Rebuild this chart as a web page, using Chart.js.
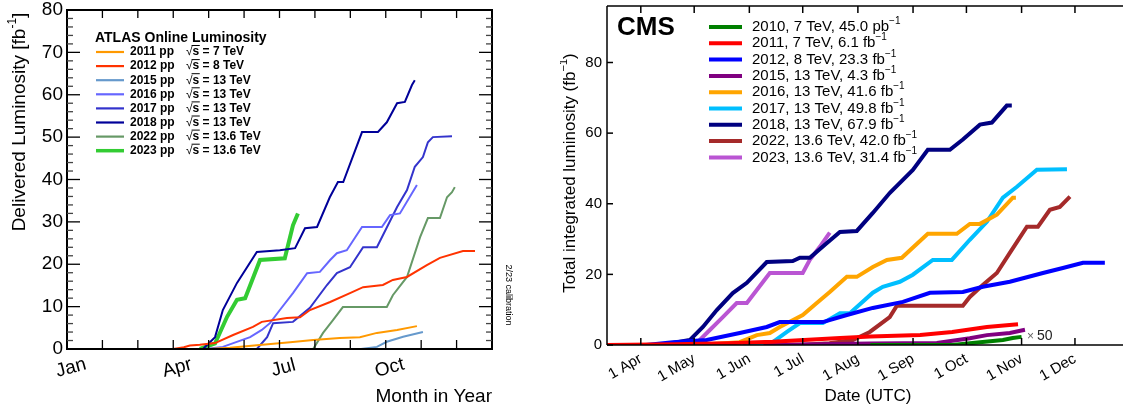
<!DOCTYPE html>
<html>
<head>
<meta charset="utf-8">
<script src="https://cdn.jsdelivr.net/npm/chart.js@4/dist/chart.umd.min.js"></script>
<style>
  html, body { margin: 0; padding: 0; background: #fff; }
  #wrap { position: relative; width: 1123px; height: 411px; overflow: hidden; }
  canvas { position: absolute; top: 0; }
  #atlas { left: 0; }
  #cms { left: 560px; }
</style>
</head>
<body>
<div id="wrap">
  <canvas id="atlas" width="560" height="411"></canvas>
  <canvas id="cms" width="563" height="411"></canvas>
</div>
<script>
/* Luminosity per year: ATLAS (left) and CMS (right) */

const FONT = '"Liberation Sans", Arial, Helvetica, sans-serif';

// ---- ATLAS: x = month in year (0 = 1 Jan), y = fb^-1 ----
const atlasMonthTicks = [0, 3, 6, 9];
const atlasMonthLabels = ['Jan', 'Apr', 'Jul', 'Oct'];
const atlasYTicks = [0, 10, 20, 30, 40, 50, 60, 70, 80];

const a2011M = [2.34, 4.0, 4.6, 5.36, 6.3, 6.95, 7.7, 8.27, 8.75, 9.32, 9.88];
const a2011V = [0, 0, 0.3, 0.9, 1.6, 2.1, 2.6, 2.8, 3.8, 4.5, 5.4];
const a2012M = [3.0, 3.3, 3.47, 3.75, 4.18, 4.69, 5.25, 5.5, 6.21, 6.58, 6.86, 7.43, 7.99, 8.36, 8.92, 9.2, 9.6, 10.16, 10.53, 11.18, 11.52];
const a2012V = [0, 0.4, 0.8, 1.0, 1.4, 3.3, 5.2, 6.4, 7.3, 7.5, 9.2, 11.1, 13.2, 14.6, 15.1, 16.3, 17.0, 19.8, 21.5, 23.1, 23.1];
const a2015M = [5.0, 8.3, 8.75, 9.03, 9.49, 10.05];
const a2015V = [0, 0, 0.5, 1.7, 2.9, 4.0];
const a2016M = [3.9, 4.4, 5.17, 5.5, 5.73, 6.01, 6.38, 6.78, 7.14, 7.43, 7.62, 7.9, 8.33, 8.89, 9.12, 9.4, 9.88];
const a2016V = [0, 0.5, 2.8, 4.5, 6.1, 9.2, 13.2, 17.9, 18.2, 21, 22.6, 23.3, 28.8, 28.8, 31.6, 32, 38.7];
const a2017M = [4.5, 5.36, 5.65, 5.82, 6.38, 6.86, 7.34, 7.62, 7.99, 8.36, 8.75, 9.32, 9.6, 9.82, 10.05, 10.19, 10.33, 10.87];
const a2017V = [0, 0, 2.8, 6.1, 6.4, 9.7, 15.1, 17.9, 19.3, 24, 24, 33.5, 37.5, 43, 45.3, 48.8, 50, 50.2];
const a2018M = [3.84, 4.18, 4.4, 4.8, 5.36, 6.01, 6.44, 6.72, 7.06, 7.42, 7.65, 7.8, 8.33, 8.78, 9.03, 9.32, 9.54, 9.74, 9.82];
const a2018V = [0, 2.8, 9.2, 15.6, 22.9, 23.3, 23.8, 28.5, 28.8, 35.8, 39.4, 39.4, 51.2, 51.2, 53.5, 58, 58.3, 62.3, 63.4];
const a2022M = [4.5, 6.95, 7.23, 7.51, 7.79, 9.03, 9.2, 9.6, 9.97, 10.19, 10.53, 10.73, 10.87, 10.95];
const a2022V = [0, 0, 3.8, 6.8, 9.9, 9.9, 12.7, 17, 26.4, 30.9, 30.9, 35.8, 37, 38.2];
const a2023M = [3.75, 4.18, 4.52, 4.8, 5.03, 5.45, 6.15, 6.38, 6.52];
const a2023V = [0, 1.3, 7.6, 11.6, 12, 21, 21.4, 29.2, 32];

const atlasSeries = [
    { year: '2011 pp', energy: '7 TeV', color: '#ff9900', width: 2, m: a2011M, v: a2011V },
    { year: '2012 pp', energy: '8 TeV', color: '#ff3300', width: 2, m: a2012M, v: a2012V },
    { year: '2015 pp', energy: '13 TeV', color: '#6699cc', width: 2, m: a2015M, v: a2015V },
    { year: '2016 pp', energy: '13 TeV', color: '#6666ff', width: 2, m: a2016M, v: a2016V },
    { year: '2017 pp', energy: '13 TeV', color: '#3333cc', width: 2, m: a2017M, v: a2017V },
    { year: '2018 pp', energy: '13 TeV', color: '#000099', width: 2, m: a2018M, v: a2018V },
    { year: '2022 pp', energy: '13.6 TeV', color: '#669966', width: 2, m: a2022M, v: a2022V },
    { year: '2023 pp', energy: '13.6 TeV', color: '#33cc33', width: 4, m: a2023M, v: a2023V },
];

// ---- CMS: x = day of year, y = fb^-1 ----
const cmsDayTicks = [91, 121, 152, 182, 213, 244, 274, 305, 335];
const cmsDayLabels = ['1 Apr', '1 May', '1 Jun', '1 Jul', '1 Aug', '1 Sep', '1 Oct', '1 Nov', '1 Dec'];
const cmsYTicks = [0, 20, 40, 60, 80];

const c2010D = [220, 266, 276, 294.5, 300, 305];
const c2010V = [0, 0, 0.5, 1.4, 2.0, 2.3];
const c2011D = [72, 110, 140, 165, 203, 220, 248, 266, 285.5, 303];
const c2011V = [0, 0.2, 0.5, 0.9, 2.0, 2.4, 2.8, 3.7, 5.1, 5.9];
const c2012D = [94, 109, 128, 146.6, 161.8, 169.1, 193.3, 206.8, 221.4, 238.3, 253.5, 272, 283.2, 298.4, 317, 328.2, 339.5, 351.8];
const c2012V = [0, 0.8, 1.4, 3.4, 5.1, 6.5, 6.5, 8.5, 10.5, 12.2, 14.8, 15, 16.5, 17.9, 20.4, 21.8, 23.3, 23.3];
const c2015D = [160, 219.7, 257.4, 275.9, 285.5, 298.4, 306.9];
const c2015V = [0, 0.4, 0.6, 1.9, 2.8, 3.4, 4.3];
const c2016D = [113, 122.5, 146.6, 156.2, 163.5, 169.1, 182, 189.9, 197.2, 206.8, 212.4, 221.4, 229.3, 237.7, 252.3, 268.6, 275.9, 281.6, 291.1, 300.1, 301.8];
const c2016V = [0, 0, 0.8, 2.8, 3.4, 5.1, 8.5, 11.9, 15, 19.3, 19.3, 22.1, 24.1, 24.7, 31.5, 31.5, 34.3, 34.3, 36.9, 41.7, 41.7];
const c2017D = [148.3, 165.2, 173.1, 180.4, 193.3, 202.9, 208.5, 221.4, 227, 236.6, 243.9, 255.1, 265.8, 275.9, 285.5, 294.5, 302.4, 313.6, 330.5];
const c2017V = [0, 0.8, 3.7, 6.2, 6.2, 9, 9, 14.8, 16.5, 17.9, 19.9, 24.1, 24.1, 29.8, 34.9, 41.7, 44.8, 49.6, 49.8];
const c2018D = [100, 109, 118.5, 125.9, 133.7, 142.7, 150.6, 161.8, 176.4, 180.4, 186, 195.6, 202.9, 212.4, 221.4, 231, 243.9, 252.3, 264.7, 272, 281.6, 288.3, 296.7, 299.5];
const c2018V = [0, 0.6, 1.4, 5.1, 9.9, 14.7, 17.6, 23.5, 23.8, 24.7, 24.7, 28.9, 32, 32.3, 37.4, 43.1, 49.6, 55.3, 55.3, 58.2, 62.4, 63, 67.8, 67.8];
const c2022D = [180, 197, 210.2, 219.7, 230.9, 234.9, 272, 275.9, 283.2, 291.1, 298.4, 308, 314.2, 320.9, 326.5, 332.2];
const c2022V = [0, 0.5, 1.4, 3.7, 7.9, 11.1, 11.1, 13.6, 17, 20.4, 26.1, 33.5, 33.5, 38.3, 39.1, 42];
const c2023D = [110, 122.5, 128.1, 137.1, 144.9, 150.6, 163.5, 182, 186, 191.6, 197.2];
const c2023V = [0, 0.6, 3.4, 7.9, 11.9, 11.9, 20.4, 20.4, 24.1, 27.8, 31.8];

const cmsSeries = [
    { label: '2010, 7 TeV, 45.0 pb', color: '#008000', d: c2010D, v: c2010V },
    { label: '2011, 7 TeV, 6.1 fb', color: '#ff0000', d: c2011D, v: c2011V },
    { label: '2012, 8 TeV, 23.3 fb', color: '#0000ff', d: c2012D, v: c2012V },
    { label: '2015, 13 TeV, 4.3 fb', color: '#800080', d: c2015D, v: c2015V },
    { label: '2016, 13 TeV, 41.6 fb', color: '#ffa500', d: c2016D, v: c2016V },
    { label: '2017, 13 TeV, 49.8 fb', color: '#00bfff', d: c2017D, v: c2017V },
    { label: '2018, 13 TeV, 67.9 fb', color: '#000080', d: c2018D, v: c2018V },
    { label: '2022, 13.6 TeV, 42.0 fb', color: '#a52a2a', d: c2022D, v: c2022V },
    { label: '2023, 13.6 TeV, 31.4 fb', color: '#ba55d3', d: c2023D, v: c2023V },
];

Chart.defaults.font.family = FONT;
Chart.defaults.color = '#000';

function seg(ctx, x1, y1, x2, y2) {
    ctx.beginPath();
    ctx.moveTo(x1, y1);
    ctx.lineTo(x2, y2);
    ctx.stroke();
}

// text with a raised "^-1" part, drawn at (x, y) with given alignment
function supText(ctx, base, sup, tail, x, y, size, align, weight) {
    const w = weight || '';
    ctx.font = w + ' ' + size + 'px ' + FONT;
    const wb = ctx.measureText(base).width;
    const wt = ctx.measureText(tail).width;
    ctx.font = w + ' ' + Math.round(size * 0.65) + 'px ' + FONT;
    const ws = ctx.measureText(sup).width;
    const total = wb + ws + wt;
    let x0 = x;
    if (align === 'center') x0 = x - total / 2;
    if (align === 'right') x0 = x - total;
    ctx.textAlign = 'left';
    ctx.textBaseline = 'middle';
    ctx.font = w + ' ' + size + 'px ' + FONT;
    ctx.fillText(base, x0, y);
    ctx.fillText(tail, x0 + wb + ws, y);
    ctx.font = w + ' ' + Math.round(size * 0.65) + 'px ' + FONT;
    ctx.fillText(sup, x0 + wb, y - size * 0.38);
}

// keep the plot box exactly where afterFit puts it
function noPad(s) {
    s.paddingTop = 0;
    s.paddingBottom = 0;
    s.paddingLeft = 0;
    s.paddingRight = 0;
}

const atlasDecor = {
    id: 'atlasDecor',
    afterDraw(chart) {
        const { ctx, chartArea: a, scales: { x, y } } = chart;
        ctx.save();
        ctx.strokeStyle = '#000';
        ctx.lineWidth = 2;
        ctx.strokeRect(a.left, a.top, a.right - a.left, a.bottom - a.top);

        ctx.lineWidth = 1.3;
        for (let v = 2; v < 80; v += 2) {
            const py = y.getPixelForValue(v);
            const len = v % 10 === 0 ? 13 : 6;
            ctx.strokeStyle = v % 10 === 0 ? '#000' : '#444';
            seg(ctx, a.left, py, a.left + len, py);
            seg(ctx, a.right, py, a.right - len, py);
        }
        ctx.strokeStyle = '#000';
        for (let m = 1; m < 12; m++) {
            const px = x.getPixelForValue(m);
            seg(ctx, px, a.bottom, px, a.bottom - 9);
            seg(ctx, px, a.top, px, a.top + 8);
        }

        // month labels, slightly tilted
        ctx.fillStyle = '#000';
        ctx.font = '19px ' + FONT;
        ctx.textAlign = 'center';
        ctx.textBaseline = 'middle';
        atlasMonthTicks.forEach((m, i) => {
            ctx.save();
            ctx.translate(x.getPixelForValue(m) + 4, a.bottom + 19);
            ctx.rotate(-15 * Math.PI / 180);
            ctx.fillText(atlasMonthLabels[i], 0, 0);
            ctx.restore();
        });

        // axis titles
        ctx.font = '19px ' + FONT;
        ctx.textAlign = 'right';
        ctx.fillText('Month in Year', a.right, 397);
        ctx.save();
        ctx.translate(20, 122);
        ctx.rotate(-Math.PI / 2);
        supText(ctx, 'Delivered Luminosity [fb', '-1', ']', 0, 0, 19, 'center');
        ctx.restore();

        ctx.save();
        ctx.translate(508, 295);
        ctx.rotate(Math.PI / 2);
        ctx.font = '9px ' + FONT;
        ctx.textAlign = 'center';
        ctx.fillText('2/23 calibration', 0, 0);
        ctx.restore();

        // legend
        ctx.font = 'bold 14px ' + FONT;
        ctx.textAlign = 'left';
        ctx.fillText('ATLAS Online Luminosity', 95, 38);
        atlasSeries.forEach((s, i) => {
            const ry = 52 + i * 14.1;
            ctx.strokeStyle = s.color;
            ctx.lineWidth = s.width === 4 ? 3.5 : 2.2;
            seg(ctx, 96, ry, 124, ry);
            ctx.font = 'bold 12px ' + FONT;
            ctx.fillStyle = '#000';
            ctx.fillText(s.year, 130, ry);
            ctx.font = '12px ' + FONT;
            const wr = ctx.measureText('\u221A').width;
            ctx.fillText('\u221A', 186, ry);
            ctx.font = 'bold 12px ' + FONT;
            const ws = ctx.measureText('s').width;
            ctx.fillText('s = ' + s.energy, 186 + wr, ry);
            ctx.strokeStyle = '#000';
            ctx.lineWidth = 1;
            seg(ctx, 186 + wr - 1, ry - 6.5, 186 + wr + ws + 0.5, ry - 6.5);
        });
        ctx.restore();
    }
};

new Chart(document.getElementById('atlas'), {
    type: 'line',
    data: {
        datasets: atlasSeries.map(s => ({
            label: s.year,
            data: s.m.map((m, i) => ({ x: m, y: s.v[i] })),
            borderColor: s.color,
            borderWidth: s.width,
            pointRadius: 0,
            tension: 0,
            fill: false,
        })),
    },
    options: {
        responsive: false,
        animation: false,
        layout: { padding: { top: 10, right: 68, left: 0, bottom: 0 } },
        plugins: { legend: { display: false }, tooltip: { enabled: false } },
        scales: {
            x: {
                type: 'linear', min: 0, max: 12,
                grid: { display: false, drawTicks: false },
                border: { display: false },
                ticks: { display: false },
                afterFit: s => { s.height = 62; noPad(s); },
            },
            y: {
                min: 0, max: 80,
                afterBuildTicks: s => { s.ticks = atlasYTicks.map(v => ({ value: v })); },
                grid: { display: false, drawTicks: false },
                border: { display: false },
                ticks: { font: { size: 19 }, color: '#000', padding: 4 },
                afterFit: s => { s.width = 67; noPad(s); },
            },
        },
    },
    plugins: [atlasDecor],
});

const cmsDecor = {
    id: 'cmsDecor',
    afterDraw(chart) {
        const { ctx, chartArea: a, scales: { x, y } } = chart;
        ctx.save();
        ctx.strokeStyle = '#000';
        ctx.lineWidth = 1.5;
        seg(ctx, a.left, a.top, a.left, a.bottom);
        seg(ctx, a.left, a.bottom, a.right, a.bottom);
        seg(ctx, a.left, a.top, a.right, a.top);
        cmsYTicks.forEach(v => {
            const py = y.getPixelForValue(v);
            seg(ctx, a.left, py, a.left + 6, py);
        });
        cmsDayTicks.forEach(d => {
            const px = x.getPixelForValue(d);
            seg(ctx, px, a.bottom, px, a.bottom - 7);
            seg(ctx, px, a.top, px, a.top + 7);
        });

        ctx.fillStyle = '#000';
        ctx.font = 'bold 26px ' + FONT;
        ctx.textAlign = 'left';
        ctx.textBaseline = 'middle';
        ctx.fillText('CMS', 57, 28);

        cmsSeries.forEach((s, i) => {
            const ry = 27 + i * 16.3;
            ctx.strokeStyle = s.color;
            ctx.lineWidth = 4;
            seg(ctx, 149, ry, 182, ry);
            ctx.fillStyle = '#000';
            supText(ctx, s.label, '\u22121', '', 192, ry, 15, 'left');
        });

        // x50 note for 2010
        ctx.font = '12px ' + FONT;
        ctx.fillStyle = '#666';
        ctx.textAlign = 'left';
        ctx.fillText('\u00D7', 467, 337);
        ctx.font = '14px ' + FONT;
        ctx.fillStyle = '#222';
        ctx.fillText('50', 477, 336);

        // axis titles
        ctx.fillStyle = '#000';
        ctx.font = '17px ' + FONT;
        ctx.textAlign = 'center';
        ctx.fillText('Date (UTC)', 308, 396);
        ctx.save();
        ctx.translate(10, 173);
        ctx.rotate(-Math.PI / 2);
        supText(ctx, 'Total integrated luminosity (fb', '\u22121', ')', 0, 0, 17, 'center');
        ctx.restore();
        ctx.restore();
    }
};

new Chart(document.getElementById('cms'), {
    type: 'line',
    data: {
        datasets: cmsSeries.map(s => ({
            label: s.label,
            data: s.d.map((d, i) => ({ x: d, y: s.v[i] })),
            borderColor: s.color,
            borderWidth: 4,
            pointRadius: 0,
            tension: 0,
            fill: false,
        })),
    },
    options: {
        responsive: false,
        animation: false,
        layout: { padding: { top: 6, right: 0, left: 0, bottom: 0 } },
        plugins: { legend: { display: false }, tooltip: { enabled: false } },
        scales: {
            x: {
                type: 'linear', min: 72, max: 362,
                afterBuildTicks: s => { s.ticks = cmsDayTicks.map(v => ({ value: v })); },
                grid: { display: false, drawTicks: false },
                border: { display: false },
                ticks: {
                    font: { size: 15 }, color: '#000', autoSkip: false,
                    minRotation: 30, maxRotation: 30, padding: 5,
                    callback: v => cmsDayLabels[cmsDayTicks.indexOf(v)],
                },
                afterFit: s => { s.height = 66; noPad(s); },
            },
            y: {
                min: 0, max: 96,
                afterBuildTicks: s => { s.ticks = cmsYTicks.map(v => ({ value: v })); },
                grid: { display: false, drawTicks: false },
                border: { display: false },
                ticks: { font: { size: 15 }, color: '#000', padding: 5 },
                afterFit: s => { s.width = 47; noPad(s); },
            },
        },
    },
    plugins: [cmsDecor],
});
</script>
</body>
</html>
